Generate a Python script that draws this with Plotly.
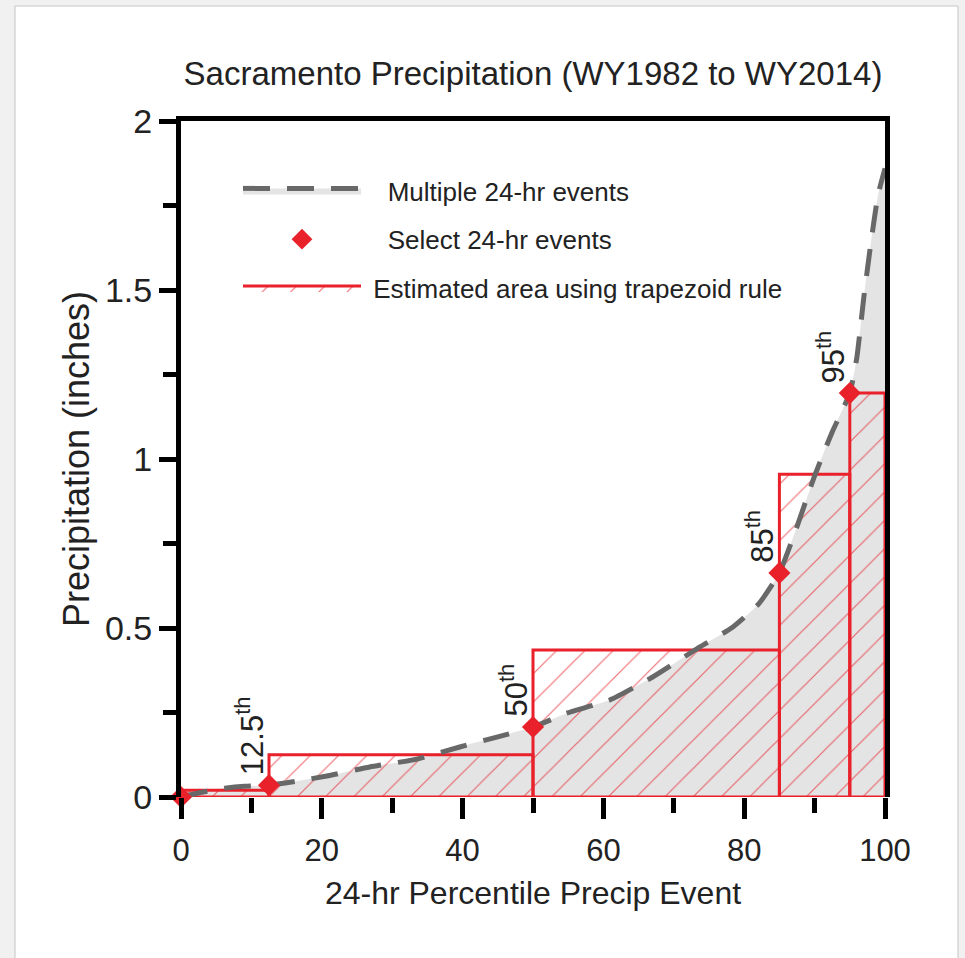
import plotly.graph_objects as go

# ---------------- data ----------------
curve_pct = [0, 3, 6.5, 9, 12.5, 16.5, 20.7, 26.8, 33.5, 39.6, 45, 50, 54.8, 60.9,
             67, 73.7, 78.4, 82, 85, 87.5, 90, 92.5, 95, 96, 97, 98, 99, 100]
curve_val = [0, 0.014, 0.027, 0.032, 0.035, 0.047, 0.062, 0.089, 0.112, 0.148, 0.178,
             0.207, 0.248, 0.287, 0.355, 0.444, 0.503, 0.57, 0.663, 0.80, 0.95, 1.08,
             1.195, 1.30, 1.48, 1.64, 1.78, 1.86]

event_pct = [0, 12.5, 50, 85, 95]
event_val = [0, 0.035, 0.207, 0.663, 1.195]
event_labels = ["", "12.5", "50", "85", "95"]

trap_edges = [0, 12.5, 50, 85, 95, 100]
trap_heights = [0.02, 0.125, 0.435, 0.955, 1.195]

title_text = "Sacramento Precipitation (WY1982 to WY2014)"
x_title = "24-hr Percentile Precip Event"
y_title = "Precipitation (inches)"
legend_names = ["Multiple 24-hr events", "Select 24-hr events",
                "Estimated area using trapezoid rule"]

# ---------------- style ----------------
RED = "#e8212b"
GRAY_FILL = "#e4e4e4"
DASH_COLOR = "#686868"
TEXT = "#222222"
REG = "Liberation Sans, Arial, sans-serif"
PAD = "\u00a0\u00a0\u00a0"

W, H = 965, 958
ML, MR, MT, MB = 181, 80, 121, 161
PW, PH = W - ML - MR, H - MT - MB


def px_to_paper_x(px):
    return (px - ML) / PW


def px_to_paper_y(py):
    return (H - MB - py) / PH


# rectangles built from the trapezoid edges / heights
rx, ry = [], []
for lo, hi, h in zip(trap_edges[:-1], trap_edges[1:], trap_heights):
    rx += [lo, lo, hi, hi, lo, None]
    ry += [0, h, h, 0, 0, None]

fig = go.Figure()

# legend proxy for the dashed line + gray band
fig.add_trace(go.Scatter(
    x=[None], y=[None], mode="lines", fill="tozeroy", fillcolor=GRAY_FILL,
    line=dict(color=DASH_COLOR, width=5, dash="27px,17px"),
    name=PAD + legend_names[0], legendgroup="a", hoverinfo="skip"))

# gray area under curve
fig.add_trace(go.Scatter(
    x=curve_pct, y=curve_val, mode="lines", fill="tozeroy", fillcolor=GRAY_FILL,
    line=dict(width=0, color=GRAY_FILL, shape="spline", smoothing=0.5),
    showlegend=False, hoverinfo="skip"))

# selected events (diamonds) on overlay axis so they sit on top
fig.add_trace(go.Scatter(
    x=event_pct, y=event_val, mode="markers", xaxis="x2",
    marker=dict(symbol="diamond", size=17, color=RED, line=dict(width=0)),
    name=PAD + legend_names[1], legendgroup="b", cliponaxis=False))

# trapezoid rectangles with hatching
fig.add_trace(go.Scatter(
    x=rx, y=ry, mode="lines", fill="toself", fillcolor="rgba(0,0,0,0)",
    fillpattern=dict(shape="/", fgcolor=RED, bgcolor="rgba(0,0,0,0)",
                     size=20, solidity=0.06, fgopacity=0.65),
    line=dict(color=RED, width=3), name="\u00a0" + legend_names[2], legendgroup="c",
    hoverinfo="skip"))

# dashed curve
fig.add_trace(go.Scatter(
    x=curve_pct, y=curve_val, mode="lines",
    line=dict(color=DASH_COLOR, width=5, dash="27px,17px", shape="spline", smoothing=0.5),
    showlegend=False, hoverinfo="skip"))

annotations = []
for p, v, lab in zip(event_pct, event_val, event_labels):
    if not lab:
        continue
    annotations.append(dict(
        x=p, y=v, xref="x", yref="y", text=f"{lab}<sup>th</sup>",
        showarrow=False, textangle=-90, xanchor="right", yanchor="bottom",
        xshift=3, yshift=8, font=dict(family=REG, size=31, color=TEXT)))

fig.update_layout(
    width=W, height=H,
    margin=dict(l=ML, r=MR, t=MT, b=MB),
    paper_bgcolor="#f1f1f1",
    plot_bgcolor="white",
    showlegend=True,
    title=dict(text=title_text, x=0.5, xref="paper", xanchor="center",
               y=1 - 73 / H, yanchor="middle",
               font=dict(family=REG, size=33, color=TEXT)),
    xaxis=dict(range=[0, 100], tickmode="linear", tick0=0, dtick=20,
               ticks="outside", ticklen=21, tickwidth=5, tickcolor="black",
               minor=dict(dtick=10, ticks="outside", ticklen=15, tickwidth=5,
                          tickcolor="black"),
               showline=False, showgrid=False, zeroline=False,
               ticklabelstandoff=5,
               tickfont=dict(family=REG, size=31, color=TEXT),
               title=dict(text=x_title, font=dict(family=REG, size=32, color=TEXT),
                          standoff=14)),
    xaxis2=dict(range=[0, 100], overlaying="x", side="top", matches="x",
                showline=True, linewidth=5, linecolor="black", ticks="",
                showticklabels=False, showgrid=False, zeroline=False),
    yaxis=dict(range=[0, 2], tickmode="linear", tick0=0, dtick=0.5,
               ticks="outside", ticklen=17, tickwidth=5, tickcolor="black",
               minor=dict(dtick=0.25, ticks="outside", ticklen=13, tickwidth=5,
                          tickcolor="black"),
               showline=True, linewidth=5, linecolor="black", mirror=True,
               showgrid=False, zeroline=False,
               tickfont=dict(family=REG, size=34, color=TEXT),
               title=dict(text=y_title, font=dict(family=REG, size=36, color=TEXT),
                          standoff=6)),
    legend=dict(x=px_to_paper_x(238), y=px_to_paper_y(167), xanchor="left",
                yanchor="top", bgcolor="rgba(0,0,0,0)", itemwidth=118,
                traceorder="grouped", tracegroupgap=12,
                font=dict(family=REG, size=26, color=TEXT)),
    annotations=annotations,
    shapes=[dict(type="rect", xref="paper", yref="paper", layer="below",
                 x0=px_to_paper_x(15), x1=px_to_paper_x(958),
                 y0=px_to_paper_y(965), y1=px_to_paper_y(6),
                 fillcolor="white", line=dict(color="#c4c4c4", width=1))],
)

fig.write_html("out.html")
